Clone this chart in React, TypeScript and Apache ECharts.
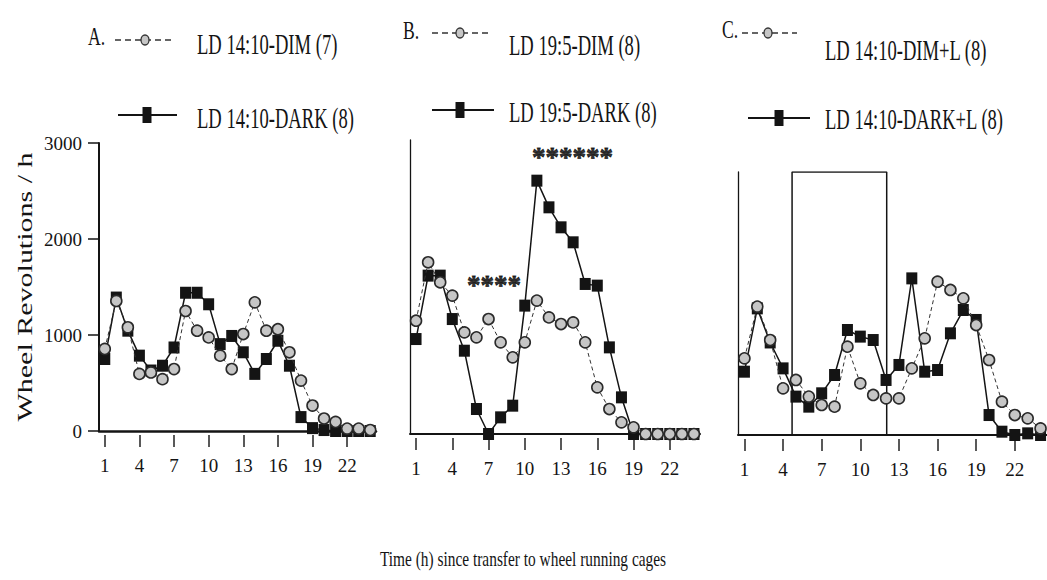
import React, { useEffect, useRef } from 'react';
import * as echarts from 'echarts';

// ---------- data ----------
const hours = ['1', '2', '3', '4', '5', '6', '7', '8', '9', '10', '11', '12', '13', '14', '15', '16', '17', '18', '19', '20', '21', '22', '23', '24'];

// Panel A: LD 14:10
const dimA = [855, 1355, 1080, 595, 610, 540, 645, 1250, 1045, 975, 785, 645, 1010, 1340, 1045, 1060, 820, 525, 265, 130, 95, 25, 25, 10];
const darkA = [750, 1390, 1045, 785, 630, 680, 870, 1440, 1440, 1320, 905, 990, 820, 595, 750, 940, 680, 145, 30, 10, 0, 0, 0, 0];

// Panel B: LD 19:5
const dimB = [1156, 1752, 1548, 1412, 1037, 986, 1173, 935, 782, 935, 1361, 1190, 1122, 1139, 935, 476, 255, 119, 68, 0, 0, 0, 0, 0];
const darkB = [969, 1616, 1616, 1173, 850, 255, 0, 170, 289, 1310, 2585, 2313, 2109, 1956, 1531, 1514, 884, 374, 0, 0, 0, 0, 0, 0];
// significance marks: count of stars, centre hour, level
const starsLowCount = 4;
const starsLowCenter = 7.45;
const starsLowLevel = 1520;
const starsHighCount = 6;
const starsHighCenter = 13.95;
const starsHighLevel = 2830;

// Panel C: LD 14:10 + light
const dimC = [787, 1318, 975, 479, 565, 394, 308, 291, 907, 530, 411, 376, 376, 684, 992, 1574, 1489, 1403, 1129, 770, 342, 205, 171, 68];
const darkC = [650, 1300, 950, 684, 394, 291, 428, 616, 1078, 1010, 975, 565, 719, 1608, 650, 667, 1044, 1283, 1181, 205, 34, 0, 17, 0];
const lightOnHour = 4.7;
const lightOffHour = 12.05;

// axis ranges
const yMaxAB = 3000;
const yMaxC = 2700;
const yInterval = 1000;

// legend / titles
const panelLetters = ['A.', 'B.', 'C.'];
const dimLabels = ['LD 14:10-DIM (7)', 'LD 19:5-DIM (8)', 'LD 14:10-DIM+L (8)'];
const darkLabels = ['LD 14:10-DARK (8)', 'LD 19:5-DARK (8)', 'LD 14:10-DARK+L (8)'];
const yTitle = 'Wheel Revolutions / h';
const xTitle = 'Time (h) since transfer to wheel running cages';

const FONT = "'Liberation Serif', 'Times New Roman', serif";
const INK = '#141414';
const DIM_FILL = '#c6c6c6';

// legend layout (per panel)
const legendPos = [
  { letter: [88, 36], dash: [115, 173, 40], circle: 145, dimText: [197, 44], solid: [118, 177, 115], square: 147, darkText: [197, 118] },
  { letter: [403, 30], dash: [432, 488, 33], circle: 460, dimText: [509, 45], solid: [432, 494, 110], square: 460, darkText: [509, 112] },
  { letter: [722, 29], dash: [742, 797, 33], circle: 768, dimText: [825, 50], solid: [748, 810, 118], square: 779, darkText: [825, 119] },
];

function buildGraphics() {
  const g: any[] = [];
  legendPos.forEach((p, i) => {
    g.push({
      type: 'text', x: p.letter[0], y: p.letter[1], scaleX: 0.68,
      style: { text: panelLetters[i], font: `26px ${FONT}`, fill: INK, textVerticalAlign: 'middle', verticalAlign: 'middle' },
    });
    g.push({
      type: 'line', shape: { x1: p.dash[0], y1: p.dash[2], x2: p.dash[1], y2: p.dash[2] },
      style: { stroke: '#333', lineWidth: 1.5, lineDash: [6, 4] },
    });
    g.push({
      type: 'ellipse', shape: { cx: p.circle, cy: p.dash[2], rx: 4, ry: 5 },
      style: { fill: DIM_FILL, stroke: '#333', lineWidth: 1.3 },
    });
    g.push({
      type: 'text', x: p.dimText[0], y: p.dimText[1], scaleX: 0.62,
      style: { text: dimLabels[i], font: `30px ${FONT}`, fill: INK, verticalAlign: 'middle', textVerticalAlign: 'middle' },
    });
    g.push({
      type: 'line', shape: { x1: p.solid[0], y1: p.solid[2], x2: p.solid[1], y2: p.solid[2] },
      style: { stroke: INK, lineWidth: 2 },
    });
    g.push({
      type: 'rect', shape: { x: p.square - 4.5, y: p.solid[2] - 8, width: 9, height: 16 },
      style: { fill: INK },
    });
    g.push({
      type: 'text', x: p.darkText[0], y: p.darkText[1], scaleX: 0.62,
      style: { text: darkLabels[i], font: `30px ${FONT}`, fill: INK, verticalAlign: 'middle', textVerticalAlign: 'middle' },
    });
  });
  g.push({
    type: 'text', x: 25, y: 287, rotation: Math.PI / 2, scaleY: 0.68,
    style: { text: yTitle, font: `30px ${FONT}`, fill: INK, align: 'center', textAlign: 'center', verticalAlign: 'middle', textVerticalAlign: 'middle' },
  });
  g.push({
    type: 'text', x: 523, y: 558, scaleX: 0.7,
    style: { text: xTitle, font: `22px ${FONT}`, fill: INK, align: 'center', textAlign: 'center', verticalAlign: 'middle', textVerticalAlign: 'middle' },
  });
  return g;
}

function lineAxis(gridIndex: number, width: number) {
  return {
    type: 'category', gridIndex, data: hours, boundaryGap: true, position: 'bottom',
    axisLine: { show: true, lineStyle: { color: INK, width } },
    axisTick: { show: false }, axisLabel: { show: false }, splitLine: { show: false },
  };
}
function tickAxis(gridIndex: number) {
  return {
    type: 'category', gridIndex, data: hours, boundaryGap: true, position: 'bottom', offset: 4,
    axisLine: { show: false },
    axisTick: { show: true, alignWithLabel: true, interval: 2, length: 12, lineStyle: { color: '#222', width: 1.5 } },
    axisLabel: { show: true, interval: 2, margin: 21, fontSize: 19, fontFamily: FONT, color: INK },
    splitLine: { show: false },
  };
}
function hiddenHourAxis(gridIndex: number) {
  return { type: 'value', gridIndex, min: 0.5, max: 24.5, show: false, splitLine: { show: false } };
}

function darkSeries(data: number[], xi: number, yi: number) {
  return {
    type: 'line', xAxisIndex: xi, yAxisIndex: yi, data,
    symbol: 'rect', symbolSize: [11, 12], showSymbol: true, showAllSymbol: true,
    itemStyle: { color: INK },
    lineStyle: { color: INK, width: 1.5 },
    z: 3,
  };
}
function dimSeries(data: number[], xi: number, yi: number) {
  return {
    type: 'line', xAxisIndex: xi, yAxisIndex: yi, data,
    symbol: 'circle', symbolSize: 11, showSymbol: true, showAllSymbol: true,
    itemStyle: { color: DIM_FILL, borderColor: '#2a2a2a', borderWidth: 1.6 },
    lineStyle: { color: '#333', width: 1, type: [4, 3] },
    z: 4,
  };
}
function starSeries(count: number, center: number, level: number) {
  return {
    type: 'scatter', xAxisIndex: 7, yAxisIndex: 1,
    data: [[center, level]],
    symbolSize: 0,
    label: {
      show: true, position: 'inside', formatter: '*'.repeat(count),
      fontSize: 27, fontWeight: 'bold', fontFamily: FONT, color: '#000',
      textBorderColor: '#000', textBorderWidth: 0.8,
    },
    z: 5,
  };
}

export default function App() {
  const ref = useRef<HTMLDivElement>(null);
  useEffect(() => {
    if (!ref.current) return;
    const chart = echarts.init(ref.current, undefined, { renderer: 'svg' });
    const option: any = {
      animation: false,
      backgroundColor: '#ffffff',
      grid: [
        { left: 99, top: 143, width: 277, height: 288 },
        { left: 410, top: 140, width: 290, height: 294 },
        { left: 738, top: 172, width: 309, height: 263 },
      ],
      xAxis: [
        lineAxis(0, 2.5), tickAxis(0),
        lineAxis(1, 2), tickAxis(1),
        lineAxis(2, 2), tickAxis(2),
        hiddenHourAxis(2),
        hiddenHourAxis(1),
      ],
      yAxis: [
        {
          type: 'value', gridIndex: 0, min: 0, max: yMaxAB, interval: yInterval,
          axisLine: { show: true, lineStyle: { color: INK, width: 2 } },
          axisTick: { show: true, length: 11, lineStyle: { color: INK, width: 1.5 } },
          axisLabel: { show: true, margin: 17, fontSize: 19, fontFamily: FONT, color: INK, formatter: (v: number) => String(v) },
          splitLine: { show: false },
        },
        {
          type: 'value', gridIndex: 1, min: 0, max: yMaxAB,
          axisLine: { show: true, lineStyle: { color: INK, width: 1.3 } },
          axisTick: { show: false }, axisLabel: { show: false }, splitLine: { show: false },
        },
        {
          type: 'value', gridIndex: 2, min: 0, max: yMaxC,
          axisLine: { show: true, lineStyle: { color: INK, width: 1.3 } },
          axisTick: { show: false }, axisLabel: { show: false }, splitLine: { show: false },
        },
      ],
      series: [
        darkSeries(darkA, 0, 0),
        dimSeries(dimA, 0, 0),
        darkSeries(darkB, 2, 1),
        dimSeries(dimB, 2, 1),
        starSeries(starsLowCount, starsLowCenter, starsLowLevel),
        starSeries(starsHighCount, starsHighCenter, starsHighLevel),
        {
          type: 'line', xAxisIndex: 6, yAxisIndex: 2,
          data: [[lightOnHour, 0], [lightOnHour, yMaxC], [lightOffHour, yMaxC], [lightOffHour, 0]],
          showSymbol: false, symbol: 'none',
          lineStyle: { color: INK, width: 1.5 },
          z: 1,
        },
        darkSeries(darkC, 4, 2),
        dimSeries(dimC, 4, 2),
      ],
      graphic: buildGraphics(),
    };
    chart.setOption(option);
    return () => chart.dispose();
  }, []);
  return <div ref={ref} style={{ position: 'absolute', left: 0, top: 0, width: 1047, height: 580, background: '#fff' }} />;
}
